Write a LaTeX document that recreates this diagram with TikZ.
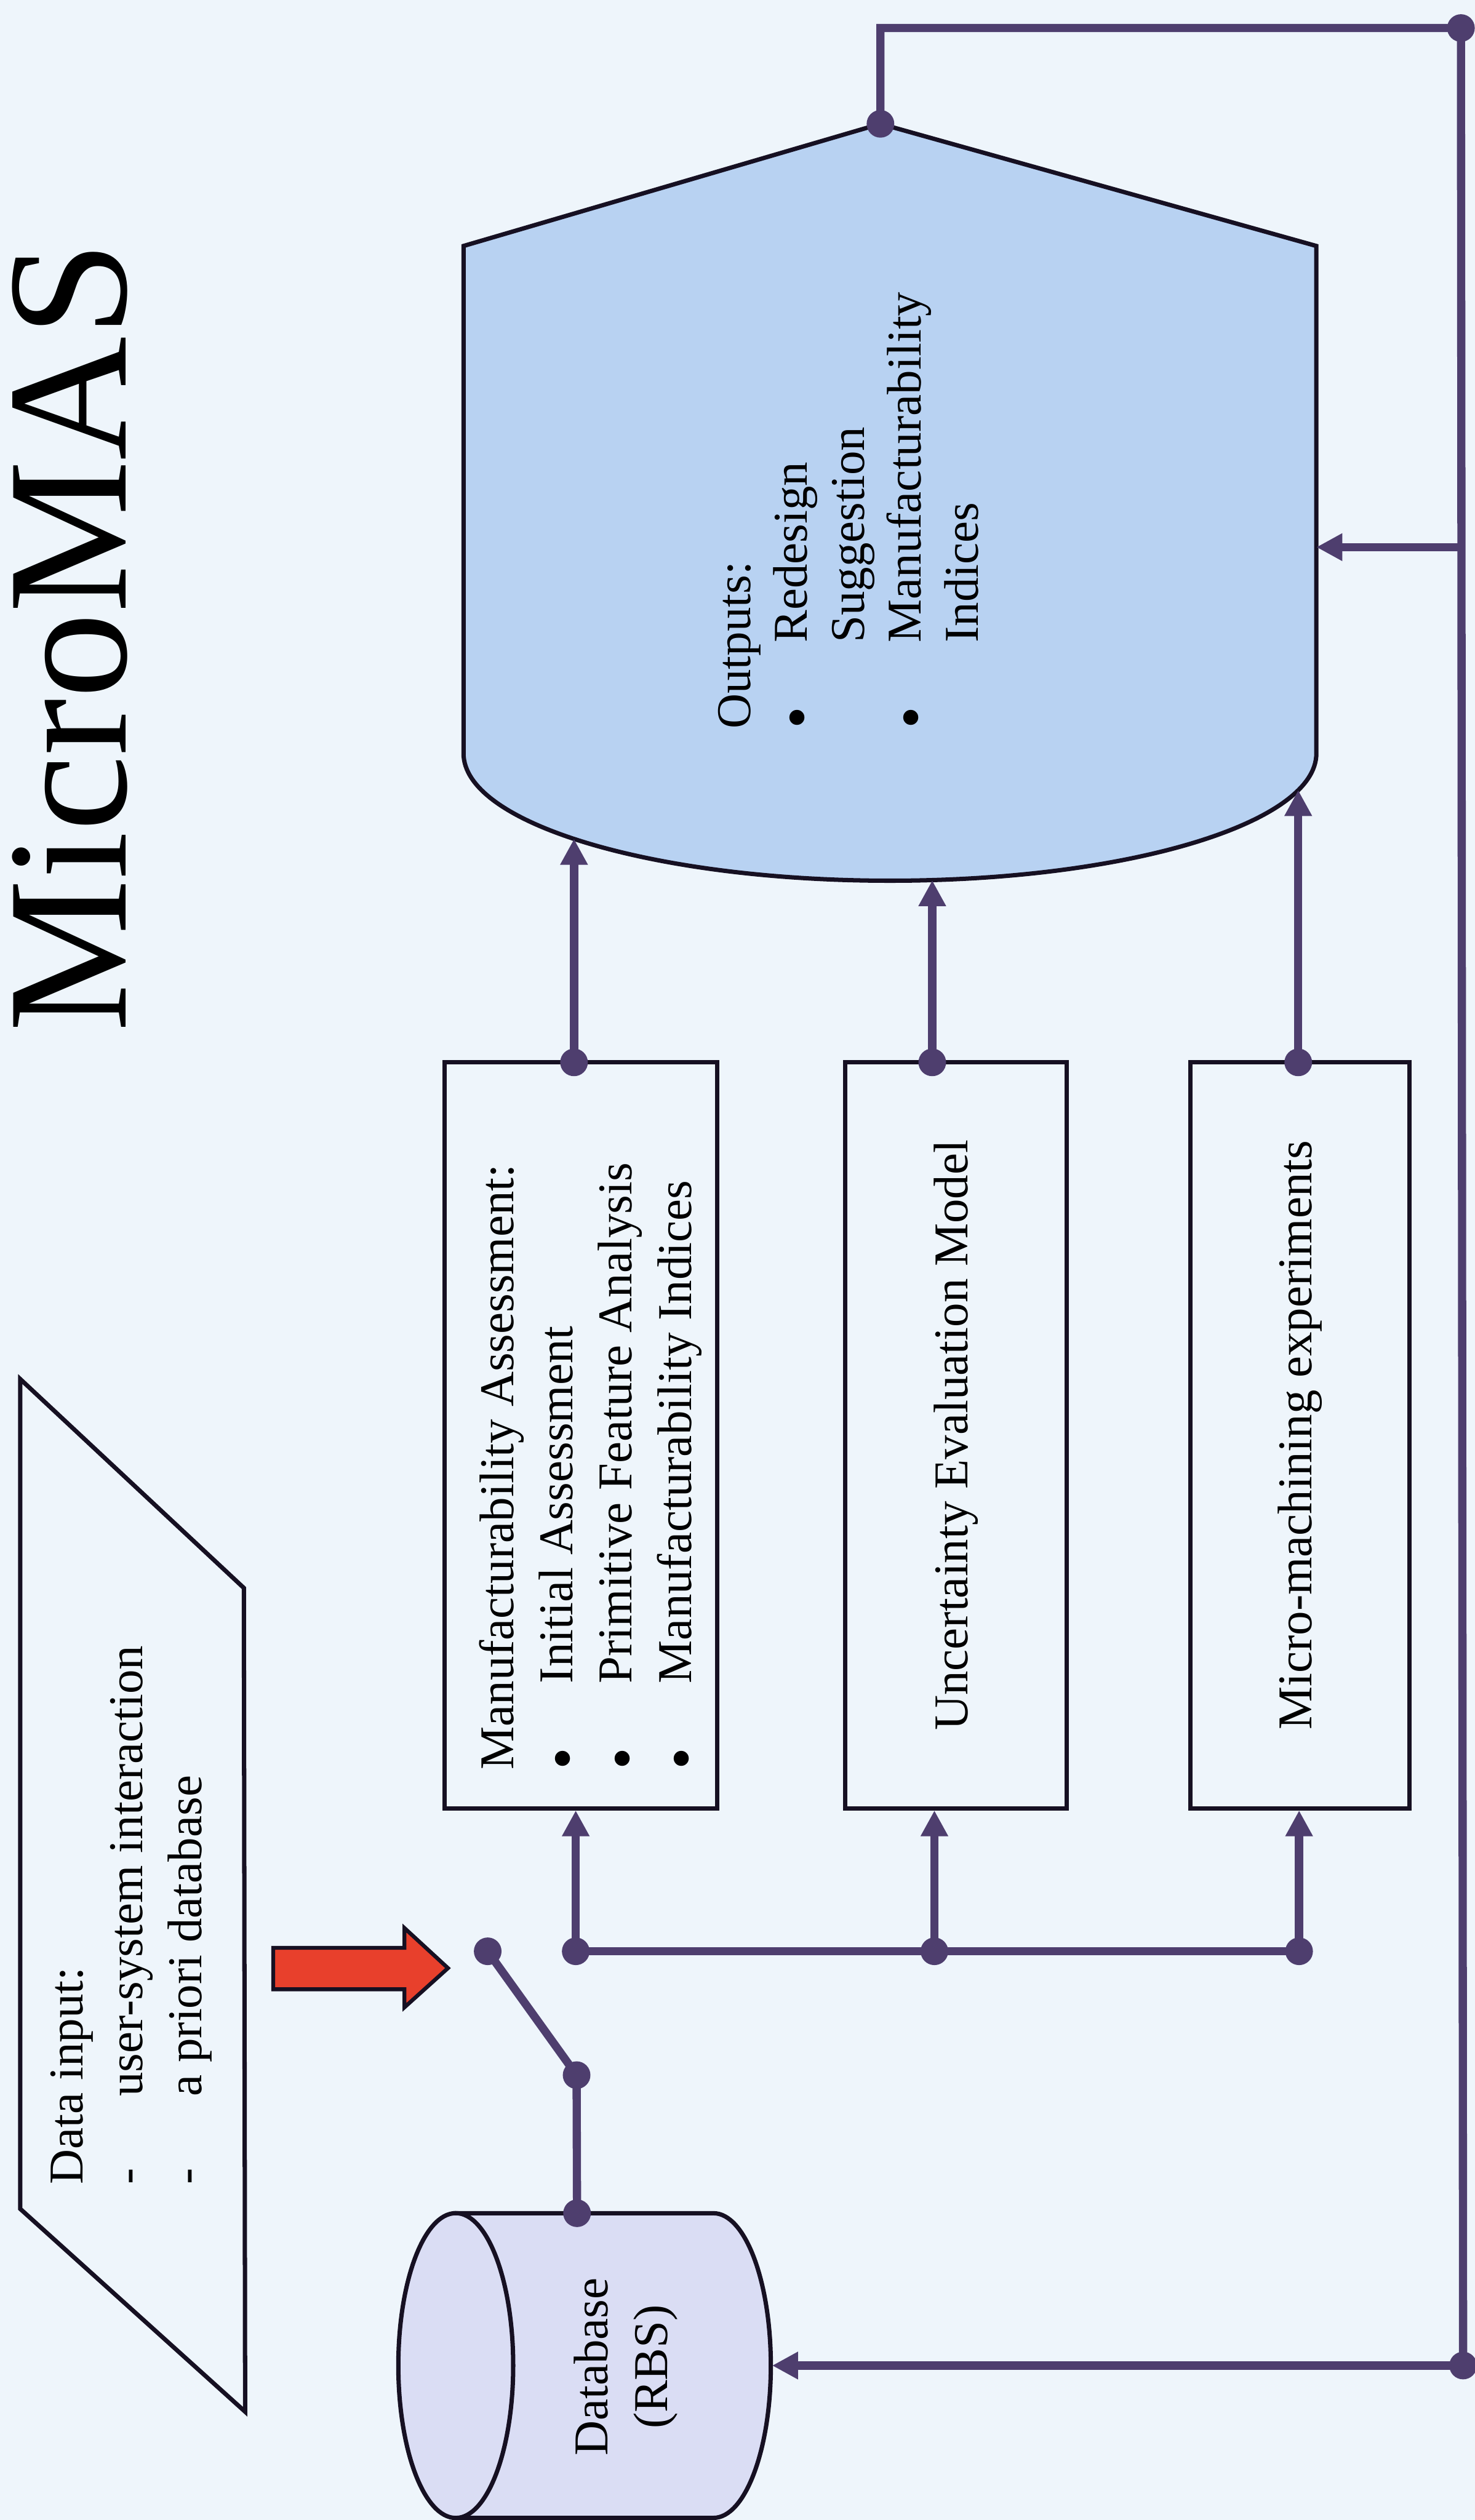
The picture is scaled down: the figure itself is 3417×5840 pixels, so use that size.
\documentclass[tikz,border=0pt]{standalone}
\usepackage{fontspec}
\usepackage{graphicx}
\setmainfont{Liberation Serif}
\usetikzlibrary{arrows.meta}

\definecolor{paper}{RGB}{238,245,251}
\definecolor{wire}{RGB}{78,62,110}
\definecolor{ink}{RGB}{22,16,34}
\definecolor{outfill}{RGB}{184,210,242}
\definecolor{dbfill}{RGB}{218,221,244}
\definecolor{arrowred}{RGB}{232,64,44}

% list marks with a fixed tab
\newcommand{\listdot}{\makebox[2cm][l]{\raisebox{-0.23em}{\scalebox{1.3}{\textbullet}}}}
\newcommand{\listdash}{\makebox[2.04cm][l]{-}}
\newcommand{\listgap}{\makebox[2cm]{}}

\begin{document}
\begin{tikzpicture}[x=0.01cm, y=-0.01cm,
  outline/.style={draw=ink, line width=0.1cm},
  wireline/.style={draw=wire, line width=0.19cm},
  feed/.style={wireline, -{Triangle[length=0.6cm,width=0.6cm]}},
  junction/.style={circle, fill=wire, inner sep=0pt, minimum size=0.64cm},
  label/.style={inner sep=0pt, rotate=90, font=\fontsize{32}{39}\selectfont},
  stepbox/.style={outline, fill=paper, rectangle, inner sep=0pt}
]
% page
\fill[paper] (0,0) rectangle (3417,5840);
\useasboundingbox (0,0) rectangle (3417,5840);

% title
\node[anchor=base west, inner sep=0pt, rotate=90,
      font=\fontsize{113}{130}\selectfont] (title) at (292,2392) {MicroMAS};

% data input (parallelogram)
\draw[outline, fill=paper] (47,3196) -- (565,3680) -- (568,5589) -- (47,5119) -- cycle;
\node[label, anchor=north west, align=left] (datain) at (117,5063)
  {Data input:\\\listdash user-system interaction\\\listdash a priori database};

% red input arrow
\draw[draw=ink, line width=0.09cm, fill=arrowred, line join=miter]
  (633,4514) -- (937,4514) -- (937,4468) -- (1038,4561) -- (937,4652) -- (937,4610) -- (633,4610) -- cycle;

% database cylinder
\draw[outline, fill=dbfill] (1056,5129) -- (1653,5129)
  .. controls (1726.5,5129) and (1786,5287) .. (1786,5482)
  .. controls (1786,5677) and (1726.5,5835) .. (1653,5835) -- (1056,5835) -- cycle;
\draw[outline, fill=dbfill] (1056,5482) ellipse [x radius=1.33cm, y radius=3.53cm];
\node[label, align=center] (dbtext) at (1450,5485) {Database\\(RBS)};

% process boxes
\node[stepbox, minimum width=6.31cm, minimum height=17.28cm] (box1) at (1345.5,3326) {};
\node[stepbox, minimum width=5.14cm, minimum height=17.28cm] (box2) at (2215,3326) {};
\node[stepbox, minimum width=5.07cm, minimum height=17.28cm] (box3) at (3011.5,3326) {};
\node[label, anchor=north west, align=left] (box1text) at (1110,4102)
  {Manufacturability Assessment:\\
   \listdot Initial Assessment\\
   \listdot Primitive Feature Analysis\\
   \listdot Manufacturability Indices};
\node[label] (box2text) at (box2.center) {Uncertainty Evaluation Model};
\node[label] (box3text) at (box3.center) {Micro-machining experiments};

% output (display shape)
\draw[outline, fill=outfill] (1074,1746) -- (1074,570) -- (2040,287) -- (3050,570) -- (3050,1746)
  .. controls (3050,1908.9) and (2607.7,2041) .. (2062,2041)
  .. controls (1516.3,2041) and (1074,1908.9) .. (1074,1746) -- cycle;
\node[label, anchor=north west, align=left, font=\fontsize{32}{37.5}\selectfont] (outtext) at (1663,1690)
  {Outputs:\\
   \listdot Redesign\\
   \listgap Suggestion\\
   \listdot Manufacturability\\
   \listgap Indices};

% connection points
\coordinate (apex) at (2040,287);
\coordinate (outright) at (3050,1268);
\coordinate (out1) at (1330,1944);
\coordinate (out2) at (2160,2040);
\coordinate (out3) at (3008,1831);
\coordinate (top1) at (1330,2462);
\coordinate (top2) at (2160,2462);
\coordinate (top3) at (3008,2462);
\coordinate (bus1) at (1334,4522);
\coordinate (bus2) at (2165,4522);
\coordinate (bus3) at (3010,4522);
\coordinate (swfree) at (1130,4522);
\coordinate (swpivot) at (1336,4809);
\coordinate (dbtop) at (1337,5129);
\coordinate (dbin) at (1789,5482);
\coordinate (fbtop) at (3385,65);
\coordinate (fbmid) at (3385,1268);
\coordinate (fbbot) at (3390,5482);

% switch
\draw[wireline] (swfree) -- (swpivot) -- (dbtop);

% distribution bus
\draw[wireline] (bus1) -- (bus3);
\draw[feed] (bus1) -- (bus1 |- box1.south);
\draw[feed] (bus2) -- (bus2 |- box2.south);
\draw[feed] (bus3) -- (bus3 |- box3.south);

% results into output
\draw[feed] (top1) -- (out1);
\draw[feed] (top2) -- (out2);
\draw[feed] (top3) -- (out3);

% feedback loop
\draw[wireline] (apex) |- (fbtop) -- (fbbot);
\draw[feed] (fbmid) -- (outright);
\draw[feed] (fbbot) -- (dbin);

% junction dots
\foreach \p in {apex,top1,top2,top3,bus1,bus2,bus3,swfree,swpivot,dbtop,fbtop,fbbot}
  \node[junction] (dot-\p) at (\p) {};
\end{tikzpicture}
\end{document}
